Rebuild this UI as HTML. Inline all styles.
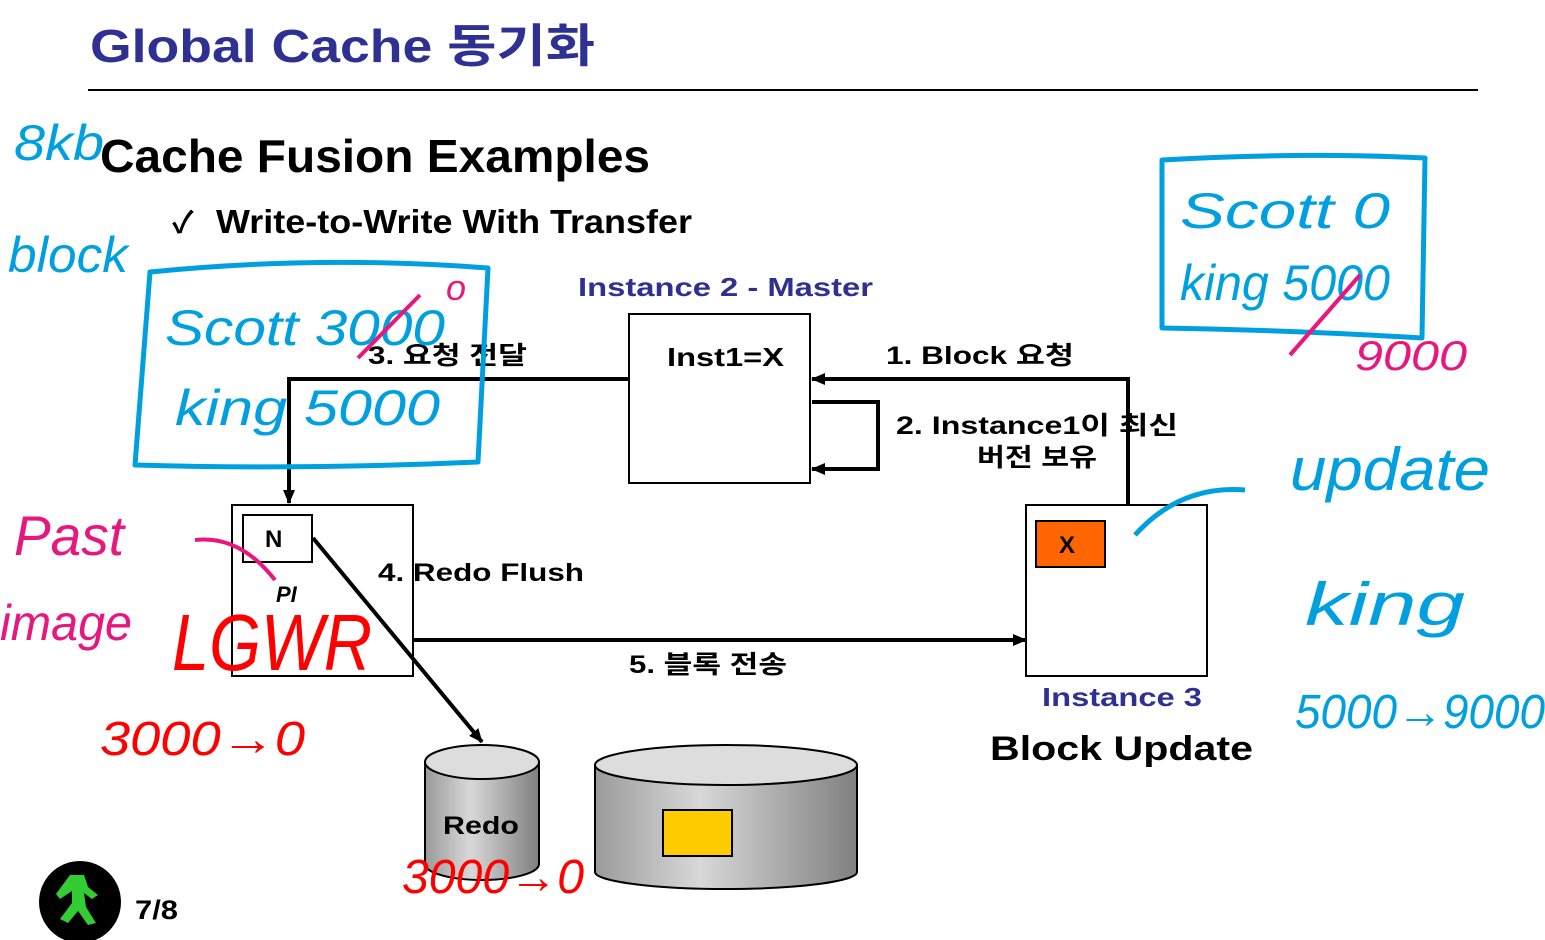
<!DOCTYPE html>
<html><head><meta charset="utf-8"><style>
body{margin:0;width:1545px;height:940px;background:#fff;overflow:hidden;font-family:"Liberation Sans","Noto Sans CJK KR",sans-serif}
svg{position:absolute;left:0;top:0}
</style></head><body>
<svg width="1545" height="940" viewBox="0 0 1545 940" xmlns="http://www.w3.org/2000/svg" font-family="Liberation Sans, Noto Sans CJK KR, sans-serif">
<defs>
<marker id="a" markerWidth="14" markerHeight="12" refX="13" refY="6" orient="auto" markerUnits="userSpaceOnUse"><path d="M0,0 L14,6 L0,12 z" fill="#000"/></marker>
<linearGradient id="g" x1="0" x2="1"><stop offset="0" stop-color="#9a9a9a"/><stop offset="0.4" stop-color="#d8d8d8"/><stop offset="1" stop-color="#808080"/></linearGradient>
</defs>
<text x="90" y="62" font-size="46" font-weight="bold" fill="#2e3192" textLength="505" lengthAdjust="spacingAndGlyphs">Global Cache 동기화</text>
<line x1="88" y1="90" x2="1478" y2="90" stroke="#000" stroke-width="2"/>
<text x="100" y="172" font-size="46" font-weight="bold" fill="#000" textLength="550" lengthAdjust="spacingAndGlyphs">Cache Fusion Examples</text>
<text x="172" y="233" font-size="30" font-weight="bold" fill="#000">✓</text>
<text x="216" y="233" font-size="33" font-weight="bold" fill="#000" textLength="476" lengthAdjust="spacingAndGlyphs">Write-to-Write With Transfer</text>
<text x="578" y="296" font-size="26" font-weight="bold" fill="#2e3192" textLength="295" lengthAdjust="spacingAndGlyphs">Instance 2 - Master</text>
<rect x="629" y="314" width="181" height="169" fill="#fff" stroke="#000" stroke-width="2"/>
<text x="667" y="366" font-size="26" font-weight="bold" textLength="117" lengthAdjust="spacingAndGlyphs">Inst1=X</text>
<polyline points="629,379 289,379 289,503" fill="none" stroke="#000" stroke-width="4" marker-end="url(#a)"/>
<polyline points="1128,505 1128,379 812,379" fill="none" stroke="#000" stroke-width="4" marker-end="url(#a)"/>
<polyline points="812,402 878,402 878,469 812,469" fill="none" stroke="#000" stroke-width="4" marker-end="url(#a)"/>
<text x="368" y="364" font-size="25" font-weight="bold" textLength="159" lengthAdjust="spacingAndGlyphs">3. 요청 전달</text>
<text x="886" y="364" font-size="25" font-weight="bold" textLength="188" lengthAdjust="spacingAndGlyphs">1. Block 요청</text>
<text x="896" y="434" font-size="25" font-weight="bold" textLength="282" lengthAdjust="spacingAndGlyphs">2. Instance1이 최신</text>
<text x="977" y="466" font-size="25" font-weight="bold" textLength="120" lengthAdjust="spacingAndGlyphs">버전 보유</text>
<rect x="232" y="505" width="181" height="171" fill="#fff" stroke="#000" stroke-width="2"/>
<rect x="243" y="515" width="69" height="47" fill="#fff" stroke="#000" stroke-width="2"/>
<text x="265" y="547" font-size="24" font-weight="bold">N</text>
<text x="276" y="602" font-size="22" font-weight="bold" font-style="italic">PI</text>
<line x1="313" y1="538" x2="482" y2="742" stroke="#000" stroke-width="4" marker-end="url(#a)"/>
<text x="378" y="581" font-size="25" font-weight="bold" textLength="206" lengthAdjust="spacingAndGlyphs">4. Redo Flush</text>
<line x1="413" y1="640" x2="1026" y2="640" stroke="#000" stroke-width="4" marker-end="url(#a)"/>
<text x="629" y="673" font-size="25" font-weight="bold" textLength="158" lengthAdjust="spacingAndGlyphs">5. 블록 전송</text>
<rect x="1026" y="505" width="181" height="171" fill="#fff" stroke="#000" stroke-width="2"/>
<rect x="1036" y="521" width="69" height="46" fill="#ff6600" stroke="#000" stroke-width="2"/>
<text x="1059" y="553" font-size="24" font-weight="bold">X</text>
<text x="1042" y="706" font-size="26" font-weight="bold" fill="#2e3192" textLength="160" lengthAdjust="spacingAndGlyphs">Instance 3</text>
<text x="990" y="760" font-size="34" font-weight="bold" textLength="263" lengthAdjust="spacingAndGlyphs">Block Update</text>
<path d="M425,762 L425,864 A57,16 0 0 0 539,864 L539,762 Z" fill="url(#g)" stroke="#000" stroke-width="2"/>
<ellipse cx="482" cy="762" rx="57" ry="17" fill="#ddd" stroke="#000" stroke-width="2"/>
<text x="443" y="834" font-size="25" font-weight="bold" textLength="76" lengthAdjust="spacingAndGlyphs">Redo</text>
<path d="M595,765 L595,872 A131,17 0 0 0 857,872 L857,765 Z" fill="url(#g)" stroke="#000" stroke-width="2"/>
<ellipse cx="726" cy="765" rx="131" ry="20" fill="#ddd" stroke="#000" stroke-width="2"/>
<rect x="663" y="810" width="69" height="46" fill="#ffcc00" stroke="#000" stroke-width="2"/>
<circle cx="80" cy="902" r="41" fill="#000"/>
<path d="M70,875 l14,0 l4,12 l10,8 l-6,4 l-8,-6 l2,14 l10,16 l-8,2 l-10,-14 l-10,12 l-8,-4 l12,-16 l0,-12 l-12,8 l-4,-5 z" fill="#33cc33"/>
<text x="135" y="919" font-size="27" font-weight="bold" textLength="43" lengthAdjust="spacingAndGlyphs">7/8</text>
<g fill="none" stroke="#00a0e0" stroke-width="5" stroke-linejoin="round">
<path d="M150,272 Q320,255 488,268 L478,462 Q300,470 135,465 Z"/>
<path d="M1162,160 Q1300,152 1425,158 L1422,338 Q1290,330 1162,328 Z"/>
<path d="M1245,490 Q1180,485 1135,535"/>
</g>
<g font-style="italic" fill="#00a0e0" font-size="50" lengthAdjust="spacingAndGlyphs">
<text x="14" y="160" textLength="90" lengthAdjust="spacingAndGlyphs">8kb</text>
<text x="8" y="272" textLength="120" lengthAdjust="spacingAndGlyphs">block</text>
<text x="165" y="345" textLength="280" lengthAdjust="spacingAndGlyphs">Scott  3000</text>
<text x="175" y="425" textLength="265" lengthAdjust="spacingAndGlyphs">king    5000</text>
<text x="1180" y="228" textLength="210" lengthAdjust="spacingAndGlyphs">Scott  0</text>
<text x="1180" y="300" textLength="210" lengthAdjust="spacingAndGlyphs">king  5000</text>
<text x="1290" y="490" font-size="60" textLength="200" lengthAdjust="spacingAndGlyphs">update</text>
<text x="1305" y="625" font-size="60" textLength="160" lengthAdjust="spacingAndGlyphs">king</text>
<text x="1295" y="728" font-size="48" textLength="250" lengthAdjust="spacingAndGlyphs">5000→9000</text>
</g>
<line x1="358" y1="358" x2="420" y2="295" stroke="#e8177e" stroke-width="4"/>
<line x1="1290" y1="355" x2="1360" y2="275" stroke="#e8177e" stroke-width="4"/>
<g font-style="italic" fill="#e8177e">
<text x="446" y="300" font-size="36">o</text>
<text x="1355" y="370" font-size="42" textLength="112" lengthAdjust="spacingAndGlyphs">9000</text>
<text x="14" y="555" font-size="56" textLength="110" lengthAdjust="spacingAndGlyphs">Past</text>
<text x="0" y="640" font-size="50" textLength="132" lengthAdjust="spacingAndGlyphs">image</text>
</g>
<path d="M275,580 Q240,535 195,540" fill="none" stroke="#e8177e" stroke-width="4"/>
<g fill="#ff0000" font-style="italic">
<text x="172" y="670" font-size="80" textLength="200" lengthAdjust="spacingAndGlyphs">LGWR</text>
<text x="100" y="755" font-size="48" textLength="205" lengthAdjust="spacingAndGlyphs">3000→0</text>
<text x="402" y="893" font-size="48" textLength="182" lengthAdjust="spacingAndGlyphs">3000→0</text>
</g>
</svg>
</body></html>
